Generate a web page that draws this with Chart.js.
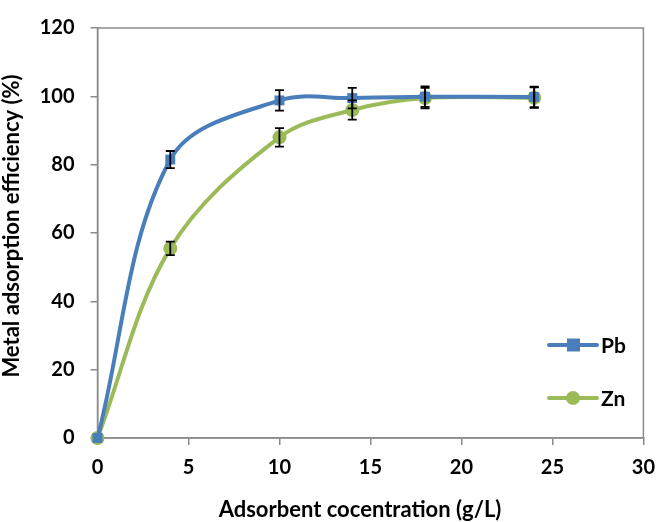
<!DOCTYPE html>
<html><head><meta charset="utf-8">
<script src="https://cdn.jsdelivr.net/npm/chart.js@4"></script>
<style>html,body{margin:0;padding:0;background:#fff}#wrap{width:666px;height:522px}</style>
</head><body><div id="wrap"><canvas id="c" width="666" height="522"></canvas></div>
<script>
const xValues = [0, 4, 10, 14, 18, 24];
const pbValues = [0, 81.5, 98.8, 99.5, 99.9, 99.8];
const pbErrors = [0, 2.5, 3.0, 3.0, 3.0, 3.0];
const znValues = [0, 55.5, 88, 96, 99.5, 99.6];
const znErrors = [0, 2.0, 2.7, 2.8, 3.0, 3.0];
const seriesNames = ['Pb', 'Zn'];
const xTicks = [0, 5, 10, 15, 20, 25, 30];
const yTicks = [0, 20, 40, 60, 80, 100, 120];
const xTitle = 'Adsorbent cocentration (g/L)';
const yTitle = 'Metal adsorption efficiency (%)';

const FONT = 'Lato, "Open Sans", sans-serif';
const PB = '#4A7EBB', ZN = '#9BBB59';

const errorBars = {
  id: 'errorBars',
  afterDatasetsDraw(chart) {
    const ctx = chart.ctx, xs = chart.scales.x, ys = chart.scales.y;
    ctx.save();
    ctx.strokeStyle = '#000'; ctx.lineWidth = 1.8;
    chart.data.datasets.forEach(ds => {
      ds.errors.forEach((e, i) => {
        if (!e) return;
        const px = xs.getPixelForValue(ds.data[i].x);
        const top = ys.getPixelForValue(ds.data[i].y + e);
        const bot = ys.getPixelForValue(ds.data[i].y - e);
        ctx.beginPath();
        ctx.moveTo(px, top); ctx.lineTo(px, bot);
        ctx.moveTo(px - 4.5, top); ctx.lineTo(px + 4.5, top);
        ctx.moveTo(px - 4.5, bot); ctx.lineTo(px + 4.5, bot);
        ctx.stroke();
      });
    });
    ctx.restore();
  }
};

const frame = {
  id: 'frame',
  beforeDatasetsDraw(chart) {
    const a = chart.chartArea, ctx = chart.ctx;
    ctx.save(); ctx.strokeStyle = '#8c8c8c'; ctx.lineWidth = 1.5;
    ctx.strokeRect(a.left, a.top, a.right - a.left, a.bottom - a.top);
    ctx.restore();
  }
};

const extras = {
  id: 'extras',
  afterDraw(chart) {
    const ctx = chart.ctx;
    const items = [
      {name: seriesNames[0], color: PB, y: 345, square: true},
      {name: seriesNames[1], color: ZN, y: 398, square: false}
    ];
    ctx.save();
    items.forEach(it => {
      ctx.strokeStyle = it.color; ctx.lineWidth = 4; ctx.lineCap = 'round';
      ctx.beginPath(); ctx.moveTo(549, it.y); ctx.lineTo(597, it.y); ctx.stroke();
      ctx.fillStyle = it.color;
      if (it.square) { ctx.fillRect(567, it.y - 6.5, 13, 13); }
      else { ctx.beginPath(); ctx.arc(573, it.y, 7, 0, Math.PI * 2); ctx.fill(); }
      ctx.fillStyle = '#000'; ctx.font = 'bold 21px ' + FONT;
      ctx.textBaseline = 'middle'; ctx.textAlign = 'left';
      ctx.fillText(it.name, 601, it.y + 1);
    });
    // x-axis title
    ctx.font = 'bold 22px ' + FONT;
    ctx.textAlign = 'center'; ctx.textBaseline = 'middle';
    ctx.fillText(xTitle, 360, 510);
    // y-axis title
    ctx.translate(12, 226);
    ctx.rotate(-Math.PI / 2);
    ctx.fillText(yTitle, 0, 0);
    ctx.restore();
  }
};

function pts(vals) { return xValues.map((x, i) => ({x: x, y: vals[i]})); }

new Chart(document.getElementById('c'), {
  type: 'line',
  data: {
    datasets: [
      {label: seriesNames[0], data: pts(pbValues), errors: pbErrors, borderColor: PB, backgroundColor: PB,
       borderWidth: 4, pointStyle: 'rect', pointRadius: 7, pointBorderWidth: 0, tension: 0.35, clip: false},
      {label: seriesNames[1], data: pts(znValues), errors: znErrors, borderColor: ZN, backgroundColor: ZN,
       borderWidth: 4, pointStyle: 'circle', pointRadius: 7, pointBorderWidth: 0, tension: 0.35, clip: false}
    ]
  },
  options: {
    responsive: false, animation: false,
    layout: {padding: {top: 9, right: 12, left: 0, bottom: 0}},
    plugins: {legend: {display: false}, tooltip: {enabled: false}},
    scales: {
      x: {
        type: 'linear', min: 0, max: 30,
        afterBuildTicks(s) { s.ticks = xTicks.map(v => ({value: v})); },
        afterFit(s) { s.height = 84; },
        grid: {display: true, drawOnChartArea: false, drawTicks: true, tickLength: 7, color: '#8c8c8c', lineWidth: 1.5},
        border: {display: true, color: '#8c8c8c', width: 1.5},
        ticks: {font: {family: FONT, size: 20, weight: 'bold'}, color: '#000', padding: 11, maxRotation: 0},
        title: {display: false}
      },
      y: {
        min: 0, max: 120,
        afterBuildTicks(s) { s.ticks = yTicks.map(v => ({value: v})); },
        afterFit(s) { s.width = 97.5; },
        grid: {display: true, drawOnChartArea: false, drawTicks: true, tickLength: 7, color: '#8c8c8c', lineWidth: 1.5},
        border: {display: true, color: '#8c8c8c', width: 1.5},
        ticks: {font: {family: FONT, size: 20, weight: 'bold'}, color: '#000', padding: 16},
        title: {display: false}
      }
    }
  },
  plugins: [frame, errorBars, extras]
});
</script></body></html>
